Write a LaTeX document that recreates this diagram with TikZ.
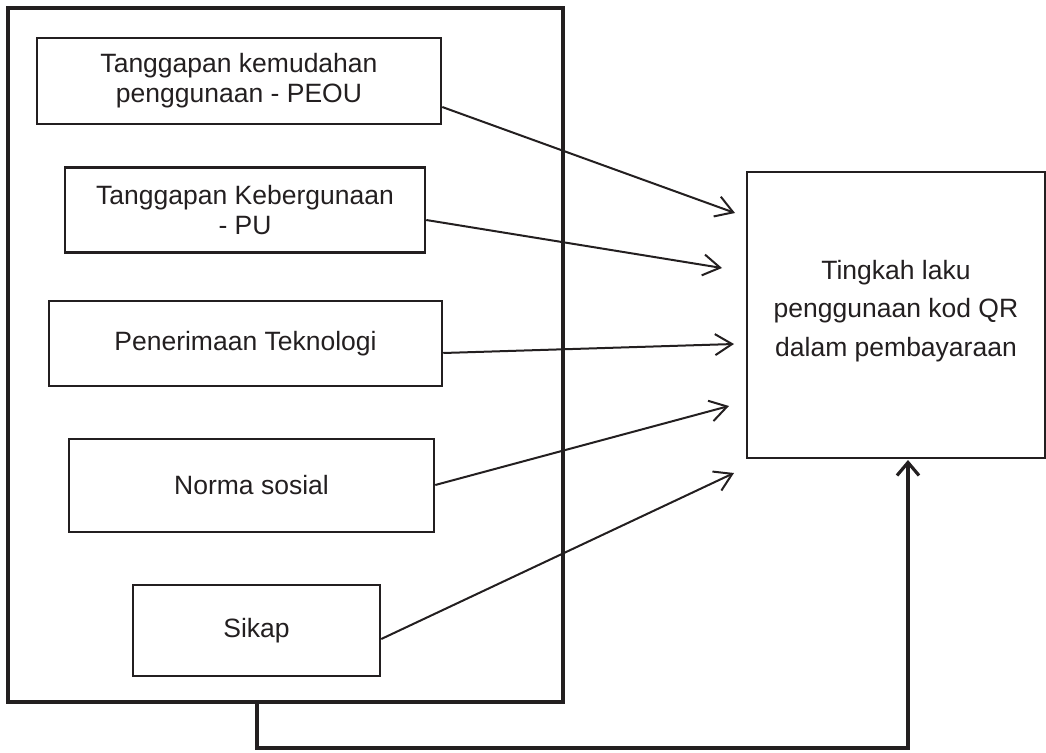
\documentclass[tikz,border=0pt]{standalone}
\usepackage{fontspec}
\setmainfont{Liberation Sans}
\usetikzlibrary{arrows.meta}
\definecolor{ink}{RGB}{35,31,32}
\tikzset{
  factor/.style={draw=ink, line width=2.5pt, inner sep=0pt, align=center, text=ink,
    font=\fontsize{26.5}{30}\selectfont},
  outerbox/.style={draw=ink, line width=3.2pt, inner sep=0pt},
  arr/.style={draw=ink, line width=2pt, -{Straight Barb[length=17pt,width=21pt,line width=2pt]}},
  fb/.style={draw=ink, line width=3.2pt, -{Straight Barb[length=13pt,width=22pt,line width=3.2pt]}}
}
\begin{document}
\begin{tikzpicture}[x=1pt,y=-1pt]
\useasboundingbox (0,0) rectangle (1046,752);
\node[outerbox, minimum width=555pt, minimum height=694pt] (ob) at (285.5,355) {};
\node[factor, minimum width=404pt, minimum height=86pt] (b1) at (239,81) {Tanggapan kemudahan\\penggunaan - PEOU};
\node[factor, minimum width=360pt, minimum height=85pt] (b2) at (245,210) {Tanggapan Kebergunaan\\- PU};
\node[factor, minimum width=393pt, minimum height=85pt] (b3) at (245.5,343.5) {Penerimaan Teknologi};
\node[factor, minimum width=365pt, minimum height=93pt] (b4) at (251.5,485.5) {Norma sosial};
\node[factor, minimum width=247pt, minimum height=91pt] (b5) at (256.5,630.5) {Sikap};
\node[factor, minimum width=298pt, minimum height=286pt] (r) at (896,315) {};
\node[text=ink, align=center, font=\fontsize{26.5}{38.5}\selectfont] (rt) at (896,311) {Tingkah laku\\penggunaan kod QR\\dalam pembayaraan};
\coordinate (t1) at (735,213);
\coordinate (t2) at (722,268);
\coordinate (t3) at (734,344);
\coordinate (t4) at (729,406);
\coordinate (t5) at (734,473);
\coordinate (tr) at (908,460);
\draw[arr] (b1.east |- 0,107) -- (t1);
\draw[arr] (b2.east |- 0,220) -- (t2);
\draw[arr] (b3.east |- 0,353) -- (t3);
\draw[arr] (b4.east |- 0,485) -- (t4);
\draw[arr] (b5.east |- 0,639) -- (t5);
\draw[fb] (ob.south -| 257,0) -- (257,748) -| (tr);
\end{tikzpicture}
\end{document}
